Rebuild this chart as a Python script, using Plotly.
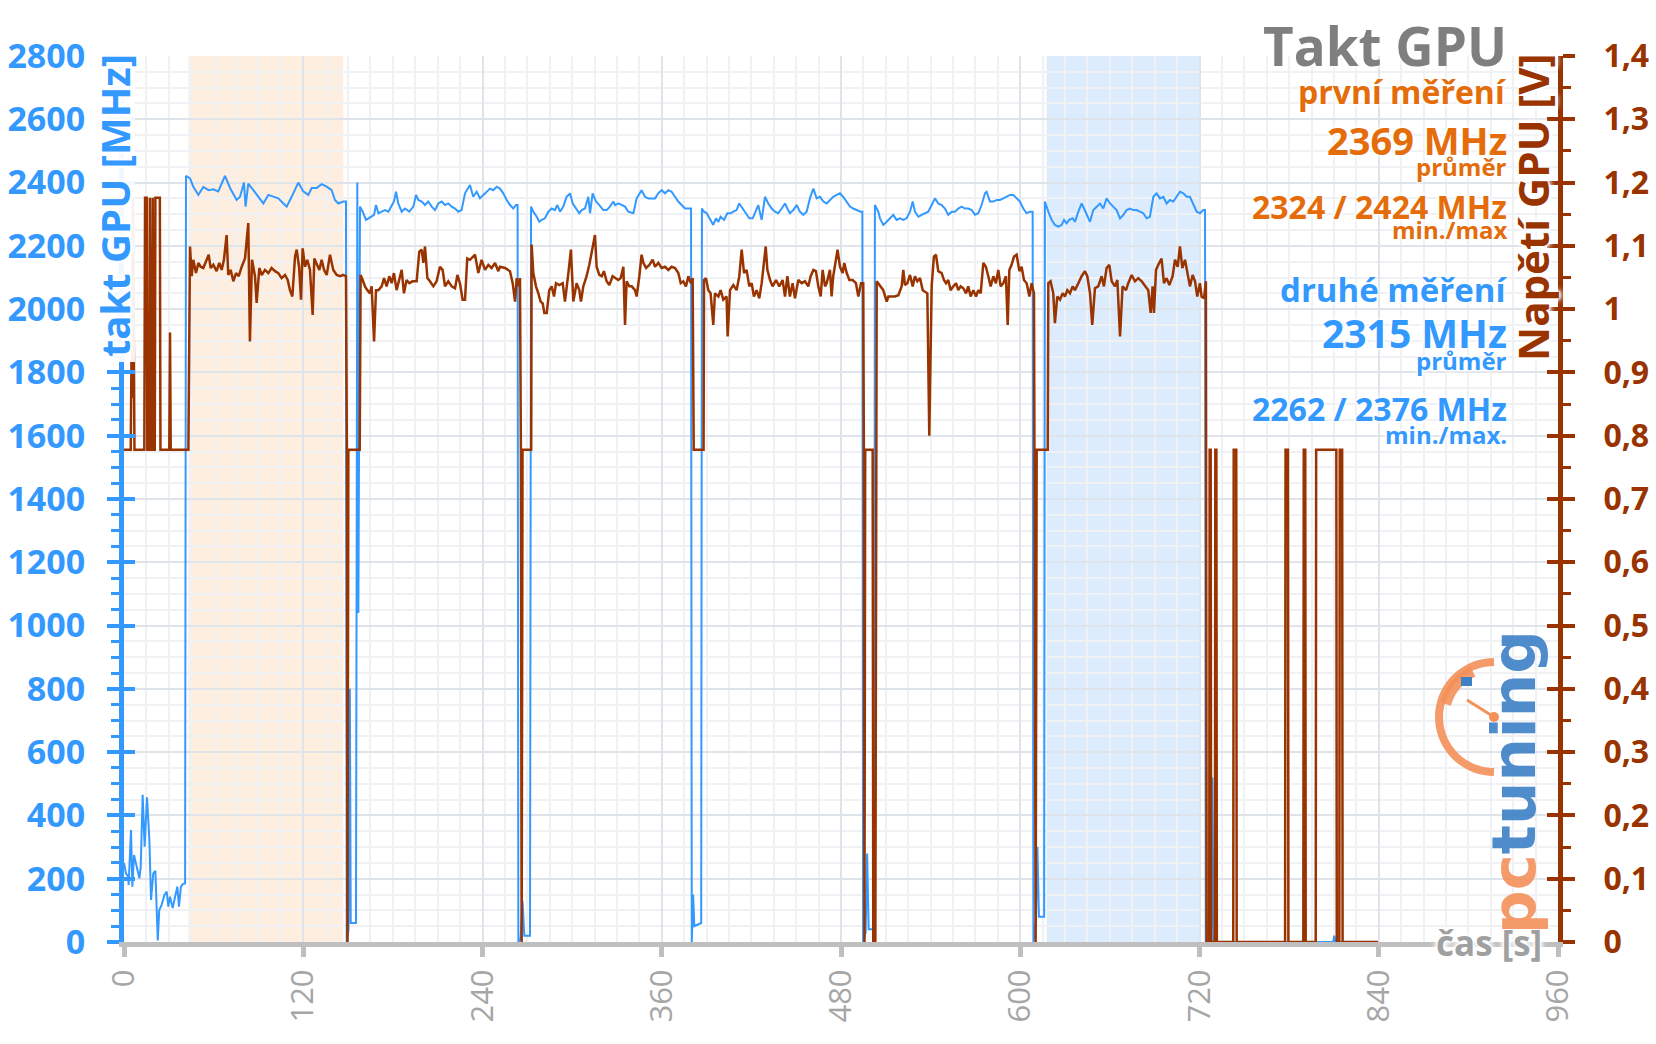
import math
import plotly.graph_objects as go

# ---------------- data ----------------
# GPU clock [MHz] as (time s, MHz)
clock_idle = [(0, 250), (1.3, 217), (2.9, 206), (3.1, 180), (4.7, 354), (5.6, 175), (6.7, 275), (8.5, 233),
              (10.3, 201), (11.2, 238), (12.5, 465), (13.8, 301), (15.4, 457), (17.0, 322), (18.1, 133),
              (19.6, 217), (21.0, 225), (22.6, 5), (23.6, 101), (25.2, 117), (27.0, 148), (28.6, 159),
              (29.7, 112), (30.8, 143), (32.6, 107), (34.2, 143), (35.7, 175), (36.8, 112), (38.1, 175),
              (39.3, 183), (40.2, 185), (40.9, 185)]
clock_seg1 = [(41.5, 2421), (44.2, 2413), (46.4, 2387), (49.8, 2361), (53.1, 2386), (56.5, 2376), (59.8, 2379),
              (63.1, 2372), (65.4, 2397), (67.6, 2421), (71.0, 2383), (75.4, 2345), (77.7, 2355), (80.3, 2400),
              (81.4, 2324), (83.2, 2397), (86.6, 2376), (89.9, 2355), (93.3, 2334), (96.6, 2361), (100.0, 2355),
              (103.3, 2350), (106.7, 2334), (108.9, 2324), (112.2, 2355), (116.7, 2400), (120.0, 2372),
              (123.4, 2361), (125.6, 2383), (129.0, 2383), (132.3, 2395), (135.7, 2387), (139.0, 2376),
              (141.2, 2345), (143.5, 2334), (146.8, 2340), (148.6, 2340)]
clock_gap1 = [(149.1, 0), (150.3, 40), (151.2, 800), (151.8, 60), (155.3, 60), (156.2, 2400), (156.9, 1040)]
clock_seg2 = [(158.0, 2324), (159.8, 2308), (162.0, 2282), (163.6, 2287), (165.8, 2292), (167.4, 2298),
              (168.7, 2329), (170.3, 2303), (172.5, 2308), (174.7, 2313), (177.0, 2308), (179.2, 2329),
              (180.7, 2340), (182.1, 2371), (183.6, 2334), (185.9, 2308), (188.1, 2318), (191.0, 2308),
              (193.7, 2324), (195.5, 2361), (197.0, 2345), (199.3, 2340), (201.5, 2329), (203.7, 2340),
              (206.0, 2324), (208.2, 2313), (210.4, 2334), (212.7, 2340), (214.9, 2329), (217.1, 2334),
              (219.4, 2324), (221.6, 2318), (223.8, 2308), (226.0, 2313), (228.3, 2366), (231.6, 2392),
              (233.8, 2355), (236.1, 2371), (238.3, 2350), (240.6, 2361), (242.8, 2371), (245.0, 2381),
              (247.2, 2376), (249.5, 2387), (251.7, 2381), (253.9, 2366), (256.2, 2345), (258.4, 2329),
              (260.6, 2318), (262.4, 2329), (263.5, 2329)]
clock_gap2 = [(264.0, 0), (265.5, 10), (266.8, 130), (268.0, 20), (271.8, 20)]
clock_seg3 = [(272.5, 2324), (274.0, 2308), (276.3, 2292), (278.0, 2276), (279.6, 2282), (281.8, 2287),
              (284.1, 2308), (286.3, 2318), (288.5, 2313), (290.1, 2329), (291.9, 2308), (294.1, 2324),
              (296.3, 2355), (298.6, 2366), (300.4, 2334), (302.6, 2318), (304.8, 2303), (306.4, 2313),
              (308.6, 2318), (310.8, 2355), (312.0, 2303), (313.7, 2366), (316.0, 2340), (318.2, 2329),
              (320.9, 2313), (323.1, 2313), (325.3, 2324), (327.6, 2340), (328.7, 2329), (330.9, 2334),
              (333.2, 2329), (335.4, 2324), (337.6, 2308), (341.0, 2303), (343.2, 2350), (345.4, 2366),
              (346.5, 2376), (348.8, 2355), (351.0, 2350), (353.2, 2350), (355.5, 2350), (357.7, 2366),
              (359.9, 2376), (362.2, 2366), (364.4, 2376), (366.6, 2371), (368.9, 2355), (371.1, 2340),
              (373.3, 2329), (375.6, 2318), (377.8, 2318), (379.6, 2318)]
clock_gap3 = [(380.1, 0), (381.0, 150), (381.8, 50), (386.4, 60)]
clock_seg4 = [(386.9, 2318), (388.3, 2308), (390.1, 2303), (392.3, 2282), (394.5, 2266), (396.3, 2287),
              (397.9, 2276), (399.4, 2292), (401.7, 2282), (403.9, 2303), (406.1, 2303), (407.9, 2308),
              (410.1, 2313), (411.9, 2334), (414.2, 2318), (416.4, 2303), (418.6, 2287), (420.9, 2287),
              (423.1, 2313), (424.6, 2329), (426.9, 2282), (429.1, 2355), (431.3, 2334), (433.6, 2318),
              (435.8, 2308), (438.0, 2303), (440.3, 2318), (442.5, 2334), (444.1, 2318), (445.8, 2303),
              (448.1, 2313), (450.3, 2329), (452.5, 2308), (454.8, 2298), (457.0, 2308), (459.2, 2350),
              (461.5, 2381), (463.7, 2350), (465.9, 2355), (468.2, 2340), (470.4, 2334), (472.6, 2345),
              (474.8, 2355), (477.1, 2361), (479.3, 2366), (481.5, 2355), (483.8, 2340), (486.0, 2324),
              (488.2, 2318), (490.5, 2313), (493.1, 2308), (494.3, 2308)]
clock_gap4 = [(494.8, 0), (496.5, 30), (497.5, 280), (498.5, 40), (502.2, 40)]
clock_seg5 = [(502.7, 2329), (505.0, 2308), (506.1, 2287), (508.3, 2266), (510.6, 2276), (512.8, 2287),
              (515.0, 2298), (517.2, 2282), (519.5, 2287), (521.7, 2282), (523.9, 2287), (526.2, 2308),
              (528.0, 2340), (529.5, 2308), (531.8, 2292), (534.0, 2298), (536.2, 2303), (538.4, 2308),
              (540.7, 2329), (542.9, 2350), (545.1, 2334), (547.4, 2329), (549.6, 2318), (551.8, 2298),
              (554.1, 2308), (556.3, 2308), (558.5, 2318), (560.8, 2324), (563.0, 2318), (565.2, 2318),
              (567.5, 2313), (569.7, 2298), (571.9, 2303), (574.1, 2329), (576.4, 2366), (577.5, 2371),
              (579.7, 2340), (582.0, 2340), (584.2, 2345), (586.4, 2345), (588.7, 2350), (590.9, 2355),
              (593.1, 2361), (595.3, 2361), (597.6, 2350), (599.8, 2340), (602.0, 2318), (604.3, 2303),
              (606.5, 2308), (608.3, 2308)]
clock_gap5 = [(608.8, 0), (610.5, 60), (611.5, 300), (612.5, 80), (616.0, 80)]
clock_seg6 = [(616.5, 2340), (618.8, 2308), (621.0, 2282), (623.2, 2266), (625.5, 2261), (627.7, 2266),
              (629.3, 2282), (631.0, 2271), (632.8, 2282), (635.1, 2287), (636.6, 2276), (638.9, 2308),
              (641.1, 2334), (642.7, 2318), (644.4, 2298), (646.7, 2276), (648.9, 2313), (651.1, 2324),
              (653.4, 2334), (655.6, 2318), (657.8, 2350), (660.1, 2334), (662.3, 2324), (664.5, 2313),
              (666.8, 2287), (669.0, 2298), (671.2, 2313), (673.4, 2318), (675.7, 2313), (677.9, 2313),
              (680.1, 2308), (682.4, 2303), (684.6, 2287), (686.8, 2292), (689.1, 2355), (691.3, 2366),
              (693.5, 2350), (695.8, 2355), (698.0, 2334), (700.2, 2345), (702.5, 2340), (704.7, 2355),
              (706.9, 2371), (709.2, 2366), (711.4, 2355), (713.6, 2355), (715.9, 2329), (718.1, 2308),
              (720.3, 2303), (722.5, 2313), (723.7, 2313)]
clock_tail = [(724.2, 0), (727.8, 0), (728.6, 520), (729.4, 0), (809.5, 0), (810.2, 20), (811.0, 0), (839.5, 0)]

# GPU voltage [V] as (time s, V)
volt_idle = [(0, 0.778), (4.5, 0.778), (5.0, 0.92), (5.5, 0.86), (6.0, 1.176), (6.5, 0.90), (7.0, 0.778),
             (13.6, 0.778), (14.1, 1.176), (15.2, 1.176), (15.6, 0.778), (16.8, 0.778), (17.3, 1.176),
             (17.8, 0.778), (18.7, 0.778), (19.2, 1.176), (19.7, 0.778), (20.6, 0.778), (21.0, 1.176),
             (24.0, 1.176), (24.4, 0.778), (30.3, 0.778), (30.8, 0.963), (31.3, 0.778), (43.1, 0.778)]
volt_seg1 = [(44.2, 1.099), (45.3, 1.052), (46.4, 1.078), (48.2, 1.057), (49.8, 1.073), (51.3, 1.067),
             (53.1, 1.065), (54.9, 1.075), (56.7, 1.086), (58.0, 1.065), (59.8, 1.070), (62.0, 1.060),
             (63.8, 1.073), (65.4, 1.062), (66.9, 1.078), (68.7, 1.117), (69.8, 1.054), (71.4, 1.062),
             (73.2, 1.044), (75.0, 1.057), (76.8, 1.052), (78.8, 1.067), (81.0, 1.080), (83.2, 1.136),
             (84.3, 0.949), (85.7, 1.078), (87.7, 1.052), (88.8, 1.010), (90.6, 1.065), (92.2, 1.054),
             (94.4, 1.062), (96.6, 1.057), (98.8, 1.065), (101.1, 1.060), (103.3, 1.057), (105.5, 1.049),
             (107.8, 1.054), (109.6, 1.046), (111.1, 1.030), (112.7, 1.020), (114.5, 1.083), (115.6, 1.094),
             (117.2, 1.067), (118.5, 1.015), (119.6, 1.096), (121.2, 1.067), (122.7, 1.078), (124.5, 1.062),
             (126.3, 0.991), (127.4, 1.080), (129.0, 1.070), (130.8, 1.062), (132.3, 1.078), (133.9, 1.062),
             (135.7, 1.054), (137.9, 1.086), (140.1, 1.062), (142.4, 1.054), (144.6, 1.052), (146.8, 1.054),
             (148.6, 1.052)]
volt_gap1 = [(149.2, 0.778), (149.6, 0), (150.2, 0.778), (157.8, 0.778)]
volt_seg2 = [(158.4, 1.054), (159.8, 1.046), (161.3, 1.036), (162.9, 1.030), (164.7, 1.025), (165.8, 1.036),
             (167.4, 0.949), (168.7, 1.030), (170.3, 1.030), (172.5, 1.036), (174.1, 1.049), (175.8, 1.036),
             (177.6, 1.052), (179.2, 1.041), (180.7, 1.057), (182.5, 1.030), (184.3, 1.049), (185.9, 1.062),
             (187.4, 1.025), (189.2, 1.046), (191.0, 1.041), (193.2, 1.044), (195.9, 1.044), (197.7, 1.091),
             (199.3, 1.094), (200.4, 1.073), (201.5, 1.099), (203.1, 1.049), (204.8, 1.044), (207.1, 1.036),
             (209.3, 1.044), (211.5, 1.067), (213.3, 1.062), (214.9, 1.036), (217.1, 1.044), (219.4, 1.036),
             (221.6, 1.033), (223.2, 1.054), (224.9, 1.041), (226.7, 1.015), (228.3, 1.015), (229.8, 1.080),
             (231.6, 1.078), (233.4, 1.083), (235.0, 1.086), (237.2, 1.057), (239.4, 1.078), (241.7, 1.062),
             (243.9, 1.070), (246.1, 1.065), (248.4, 1.073), (250.6, 1.060), (251.7, 1.067), (255.1, 1.065),
             (258.4, 1.060), (260.2, 1.041), (261.8, 1.012), (262.9, 1.049), (264.0, 1.036), (265.1, 1.049)]
volt_gap2 = [(265.7, 0.778), (266.2, 0), (266.8, 0.778), (272.6, 0.778)]
volt_seg3 = [(272.9, 1.102), (274.0, 1.057), (275.8, 1.036), (277.4, 1.025), (278.9, 1.012), (280.3, 1.009),
             (281.4, 0.994), (283.0, 0.994), (284.7, 1.030), (286.3, 1.036), (287.9, 1.020), (289.2, 1.041),
             (291.4, 1.038), (293.7, 1.041), (295.2, 1.012), (297.5, 1.057), (299.2, 1.094), (300.8, 1.012),
             (303.0, 1.041), (304.8, 1.030), (305.9, 1.012), (307.5, 1.036), (309.7, 1.052), (311.5, 1.070),
             (313.1, 1.088), (315.3, 1.117), (316.4, 1.067), (318.2, 1.054), (319.8, 1.052), (321.3, 1.060),
             (323.1, 1.044), (324.9, 1.038), (327.1, 1.052), (328.7, 1.049), (330.9, 1.046), (332.5, 1.049),
             (334.3, 1.067), (335.4, 0.975), (336.5, 1.044), (338.3, 1.036), (339.9, 1.036), (342.1, 1.030),
             (343.2, 1.020), (345.0, 1.052), (346.5, 1.086), (347.7, 1.073), (349.5, 1.065), (351.7, 1.070),
             (353.9, 1.078), (355.5, 1.067), (357.7, 1.073), (359.9, 1.065), (362.2, 1.067), (364.4, 1.062),
             (366.6, 1.067), (368.9, 1.065), (371.1, 1.057), (372.7, 1.041), (374.4, 1.044), (376.2, 1.036),
             (377.8, 1.052), (379.4, 1.041), (380.7, 1.049)]
volt_gap3 = [(381.4, 0.778), (388.0, 0.778)]
volt_seg4 = [(388.3, 1.046), (389.6, 1.049), (391.2, 1.030), (392.7, 1.025), (394.5, 0.975), (395.6, 1.025),
             (397.9, 1.020), (399.4, 1.030), (401.2, 1.015), (403.4, 1.020), (404.1, 0.957), (405.7, 1.030),
             (407.9, 1.038), (410.1, 1.030), (411.9, 1.052), (413.5, 1.094), (415.1, 1.057), (416.8, 1.062),
             (418.6, 1.036), (420.2, 1.041), (421.7, 1.020), (423.5, 1.030), (425.3, 1.017), (426.9, 1.041),
             (428.4, 1.073), (429.6, 1.099), (430.7, 1.062), (432.5, 1.046), (434.2, 1.036), (436.5, 1.046),
             (438.7, 1.036), (440.9, 1.046), (442.5, 1.020), (444.1, 1.052), (445.8, 1.020), (447.6, 1.041),
             (449.2, 1.017), (451.4, 1.046), (453.7, 1.041), (455.9, 1.044), (458.1, 1.036), (459.7, 1.052),
             (461.5, 1.062), (463.2, 1.060), (464.8, 1.036), (466.4, 1.020), (467.7, 1.062), (469.3, 1.036),
             (470.4, 1.041), (472.6, 1.062), (473.7, 1.020), (474.8, 1.052), (476.6, 1.078), (477.7, 1.094),
             (479.3, 1.067), (481.1, 1.057), (482.2, 1.073), (483.8, 1.057), (485.6, 1.046), (487.8, 1.046),
             (490.0, 1.041), (491.6, 1.020), (493.4, 1.041), (494.9, 1.041)]
volt_gap4 = [(495.3, 0.778), (495.7, 0), (496.2, 0.778), (501.2, 0.778), (501.6, 0), (503.0, 0)]
volt_seg5 = [(503.9, 1.044), (506.1, 1.036), (508.3, 1.030), (510.6, 1.012), (511.7, 1.020), (513.9, 1.020),
             (516.1, 1.020), (518.4, 1.022), (520.6, 1.036), (521.7, 1.062), (522.8, 1.038), (524.4, 1.041),
             (526.2, 1.054), (528.0, 1.036), (529.5, 1.052), (531.1, 1.044), (532.9, 1.049), (534.7, 1.030),
             (536.2, 1.027), (537.8, 1.025), (539.1, 0.800), (540.7, 1.036), (542.2, 1.083), (543.6, 1.086),
             (545.1, 1.060), (547.4, 1.057), (548.9, 1.046), (550.3, 1.041), (551.8, 1.046), (553.4, 1.030),
             (555.2, 1.036), (557.0, 1.041), (558.5, 1.030), (560.1, 1.036), (561.9, 1.033), (563.7, 1.025),
             (565.2, 1.036), (566.8, 1.020), (568.6, 1.030), (570.4, 1.020), (571.9, 1.030), (573.5, 1.025),
             (575.3, 1.073), (577.0, 1.067), (578.6, 1.052), (580.2, 1.036), (582.0, 1.052), (583.7, 1.041),
             (585.3, 1.062), (586.9, 1.036), (588.7, 1.041), (590.4, 1.052), (591.6, 0.975), (592.7, 1.062),
             (594.2, 1.070), (595.8, 1.083), (597.6, 1.086), (599.4, 1.060), (600.9, 1.067), (602.5, 1.046),
             (604.3, 1.041), (606.1, 1.020), (607.6, 1.041), (609.2, 1.025)]
volt_gap5 = [(609.5, 0.778), (610.3, 0), (611.0, 0.778), (618.4, 0.778)]
volt_seg6 = [(618.8, 1.041), (620.3, 1.044), (622.1, 1.025), (623.2, 0.978), (624.8, 1.020), (626.6, 1.015),
             (628.4, 1.025), (629.9, 1.020), (631.5, 1.030), (633.3, 1.025), (635.1, 1.036), (636.6, 1.030),
             (638.9, 1.041), (641.1, 1.052), (643.3, 1.060), (644.9, 1.052), (646.7, 1.025), (648.2, 0.975),
             (650.0, 1.033), (652.2, 1.036), (654.5, 1.052), (656.0, 1.036), (657.8, 1.065), (659.6, 1.070),
             (661.2, 1.044), (663.4, 1.036), (665.0, 1.046), (666.8, 0.957), (668.5, 1.036), (670.8, 1.030),
             (672.3, 1.041), (674.6, 1.054), (676.8, 1.044), (679.0, 1.049), (681.3, 1.044), (683.5, 1.036),
             (685.7, 1.030), (687.3, 0.994), (688.6, 1.036), (689.5, 0.994), (690.9, 1.062), (692.4, 1.070),
             (694.6, 1.080), (696.2, 1.041), (698.0, 1.049), (699.8, 1.038), (702.0, 1.052), (703.6, 1.078),
             (705.4, 1.067), (706.9, 1.099), (708.5, 1.065), (710.3, 1.078), (711.8, 1.057), (713.6, 1.036),
             (715.4, 1.054), (717.0, 1.044), (718.5, 1.020), (720.3, 1.041), (721.4, 1.020), (723.0, 1.017),
             (724.3, 1.044)]
volt_tail = [(724.8, 0), (726.5, 0), (726.8, 0.778), (727.5, 0.778), (727.8, 0), (730.3, 0), (730.6, 0.778),
             (731.3, 0.778), (731.6, 0), (742.6, 0), (742.9, 0.778), (744.6, 0.778), (744.9, 0), (777.3, 0),
             (777.6, 0.778), (779.2, 0.778), (779.5, 0), (789.5, 0), (789.8, 0.778), (790.8, 0.778),
             (791.1, 0), (797.8, 0), (798.1, 0.778), (811.6, 0.778), (811.9, 0), (813.6, 0), (813.9, 0.778),
             (815.5, 0.778), (815.8, 0), (839.5, 0)]

# highlighted measurement windows [s]
first_window = [43.1, 146.8]
second_window = [617.7, 721.0]

x_ticks = [0, 120, 240, 360, 480, 600, 720, 840, 960]
y_ticks = [0, 200, 400, 600, 800, 1000, 1200, 1400, 1600, 1800, 2000, 2200, 2400, 2600, 2800]
y2_ticks = [0, 0.1, 0.2, 0.3, 0.4, 0.5, 0.6, 0.7, 0.8, 0.9, 1.0, 1.1, 1.2, 1.3, 1.4]
y2_labels = ["0", "0,1", "0,2", "0,3", "0,4", "0,5", "0,6", "0,7", "0,8", "0,9", "1", "1,1", "1,2", "1,3", "1,4"]

# ---------------- build ----------------
clock = clock_idle + clock_seg1 + clock_gap1 + clock_seg2 + clock_gap2 + clock_seg3 + clock_gap3 + \
    clock_seg4 + clock_gap4 + clock_seg5 + clock_gap5 + clock_seg6 + clock_tail
volt = volt_idle + volt_seg1 + volt_gap1 + volt_seg2 + volt_gap2 + volt_seg3 + volt_gap3 + \
    volt_seg4 + volt_gap4 + volt_seg5 + volt_gap5 + volt_seg6 + volt_tail

BLUE = "#3399ff"
BROWN = "#993300"
ORANGE = "#e46c0a"
GRAY = "#7f7f7f"
FONT = "Open Sans"

W, H = 1656, 1044
L, R, T, B = 124, 98, 56, 102
PW, PH = W - L - R, H - T - B


def px(x):
    return (x - L) / PW


def py(y):
    return (H - B - y) / PH


fig = go.Figure()
fig.add_trace(go.Scatter(x=[p[0] for p in clock], y=[p[1] for p in clock], mode="lines",
                         line=dict(color=BLUE, width=2), hoverinfo="skip"))
fig.add_trace(go.Scatter(x=[p[0] for p in volt], y=[p[1] for p in volt], mode="lines", yaxis="y2",
                         line=dict(color=BROWN, width=2.5), hoverinfo="skip"))

shapes = [
    dict(type="rect", xref="x", yref="paper", x0=first_window[0], x1=first_window[1], y0=0, y1=1,
         fillcolor="#fdeee0", line=dict(width=0), layer="below"),
    dict(type="rect", xref="x", yref="paper", x0=second_window[0], x1=second_window[1], y0=0, y1=1,
         fillcolor="#ddecfc", line=dict(width=0), layer="below"),
    # white halo behind the left axis title (hides the axis line there, as in the original)
    dict(type="rect", xref="paper", yref="paper", x0=px(106), x1=px(135), y0=py(362), y1=py(52),
         fillcolor="white", opacity=0.92, line=dict(width=0), layer="above"),
]

# pctuning logo gauge (decoration)
cx, cy, r = 1494, 717, 55
arc = []
for k in range(0, 37):
    a = math.radians(90 + k * 5)
    arc.append((px(cx + r * math.cos(a)), py(cy - r * math.sin(a))))
path = "M " + " L ".join(f"{a:.5f},{b:.5f}" for a, b in arc)
shapes.append(dict(type="path", xref="paper", yref="paper", path=path,
                   line=dict(color="#f4915a", width=8), layer="above", opacity=0.9))
arc2 = []
for k in range(0, 11):
    a = math.radians(115 + k * 5)
    arc2.append((px(cx + (r - 5) * math.cos(a)), py(cy - (r - 5) * math.sin(a))))
path2 = "M " + " L ".join(f"{a:.5f},{b:.5f}" for a, b in arc2)
shapes.append(dict(type="path", xref="paper", yref="paper", path=path2,
                   line=dict(color="#f4915a", width=11), layer="above", opacity=0.9))
shapes.append(dict(type="line", xref="paper", yref="paper", x0=px(cx), y0=py(cy), x1=px(1467), y1=py(700),
                   line=dict(color="#f4915a", width=3), layer="above"))
shapes.append(dict(type="circle", xref="paper", yref="paper", x0=px(cx - 5), x1=px(cx + 5),
                   y0=py(cy + 5), y1=py(cy - 5), fillcolor="#f4915a", line=dict(width=0), layer="above"))
shapes.append(dict(type="rect", xref="paper", yref="paper", x0=px(1461), x1=px(1472),
                   y0=py(686), y1=py(677), fillcolor="#3d80c6", line=dict(width=0), layer="above"))

glow = "0px 0px 3px white, 0px 0px 5px white, 0px 0px 6px white"
strong_glow = ("0px 0px 2px white, 0px 0px 2px white, 0px 0px 3px white, 0px 0px 4px white, "
               "0px 0px 5px white, 0px 0px 6px white, 0px 0px 8px white")


def ann(text, x, y, size, color, anchor="right", angle=0, bold=True, shadow=glow, yanchor="middle"):
    return dict(text=text, xref="paper", yref="paper", x=px(x), y=py(y), xanchor=anchor, yanchor=yanchor,
                showarrow=False, textangle=angle, borderpad=0,
                font=dict(family=FONT, size=size, color=color, weight="bold" if bold else "normal",
                          shadow=shadow))


annotations = [
    ann("Takt GPU", 1508, 46, 53, GRAY),
    ann("první měření", 1508, 92, 32, ORANGE),
    ann("2369 MHz", 1508, 140, 38, ORANGE),
    ann("průměr", 1508, 166, 24, ORANGE),
    ann("2324 / 2424 MHz", 1508, 206, 32, ORANGE),
    ann("min./max", 1508, 230, 24, ORANGE),
    ann("druhé měření", 1508, 289, 33, BLUE),
    ann("2315 MHz", 1508, 332, 39, BLUE),
    ann("průměr", 1508, 360, 24, BLUE),
    ann("2262 / 2376 MHz", 1508, 409, 32, BLUE),
    ann("min./max.", 1508, 434, 24, BLUE),
    ann("takt GPU [MHz]", 114, 206, 40, BLUE, anchor="center", angle=-90, shadow=strong_glow),
    ann("Napětí GPU [V]", 1532, 208, 42, BROWN, anchor="center", angle=-90, shadow=strong_glow),
    ann("čas [s]", 1489, 942, 35, "#a0a0a0", anchor="center", shadow=strong_glow),
    dict(text="<span style='color:#f4915a'>pc</span><span style='color:#3d80c6'>tuning</span>",
         xref="paper", yref="paper", x=px(1513), y=py(782), xanchor="center", yanchor="middle",
         showarrow=False, textangle=-90, opacity=0.9,
         font=dict(family="DejaVu Sans", size=61, color="#3d80c6", weight="bold")),
]

fig.update_layout(
    width=W, height=H, margin=dict(l=L, r=R, t=T, b=B, pad=0, autoexpand=False),
    paper_bgcolor="white", plot_bgcolor="white", showlegend=False,
    shapes=shapes, annotations=annotations,
    xaxis=dict(range=[0, 960], tickvals=x_ticks, ticktext=[str(v) for v in x_ticks], tickangle=-90,
               tickfont=dict(family=FONT, size=31, color="#a6a6a6"), automargin=False,
               showline=True, linecolor="#bfbfbf", linewidth=5, ticks="outside", ticklen=10, tickwidth=5,
               tickcolor="#bfbfbf", showgrid=True, gridcolor="#dfe3ea", gridwidth=2, zeroline=False,
               minor=dict(dtick=15, showgrid=True, gridcolor="#eff1f5", gridwidth=2, ticks=""),
               layer="above traces"),
    yaxis=dict(range=[0, 2800], tickvals=y_ticks, ticktext=[str(v) for v in y_ticks], automargin=False,
               tickfont=dict(family=FONT, size=34, color=BLUE, weight="bold"),
               showline=True, linecolor=BLUE, linewidth=5, ticks="outside", ticklen=12, tickwidth=4,
               tickcolor=BLUE, ticklabelstandoff=15,
               showgrid=True, gridcolor="#dfe3ea", gridwidth=2, zeroline=False,
               minor=dict(dtick=50, showgrid=True, gridcolor="#eff1f5", gridwidth=2, ticks="outside",
                          ticklen=8, tickwidth=3, tickcolor=BLUE)),
    yaxis2=dict(range=[0, 1.4], overlaying="y", side="right", tickvals=y2_ticks, ticktext=y2_labels,
                tickfont=dict(family=FONT, size=32, color=BROWN, weight="bold"), automargin=False,
                showline=True, linecolor=BROWN, linewidth=5, ticks="outside", ticklen=12, tickwidth=4,
                tickcolor=BROWN, ticklabelstandoff=22, showgrid=False, zeroline=False,
                minor=dict(dtick=0.05, ticks="outside", ticklen=8, tickwidth=3, tickcolor=BROWN)),
    # inner halves of the crossing major ticks
    yaxis3=dict(range=[0, 2800], overlaying="y", side="left", tickvals=y_ticks, showticklabels=False,
                ticks="inside", ticklen=11, tickwidth=4, tickcolor=BLUE, showgrid=False, zeroline=False,
                showline=False, automargin=False),
    yaxis4=dict(range=[0, 1.4], overlaying="y", side="right", tickvals=y2_ticks, showticklabels=False,
                ticks="inside", ticklen=11, tickwidth=4, tickcolor=BROWN, showgrid=False, zeroline=False,
                showline=False, automargin=False),
)
# invisible traces so the tick-only axes are drawn
fig.add_trace(go.Scatter(x=[None], y=[None], yaxis="y3", showlegend=False, hoverinfo="skip"))
fig.add_trace(go.Scatter(x=[None], y=[None], yaxis="y4", showlegend=False, hoverinfo="skip"))

fig.write_html("out.html", config={"displayModeBar": False},
               post_script="document.body.style.margin='0';document.body.style.overflow='hidden';")
